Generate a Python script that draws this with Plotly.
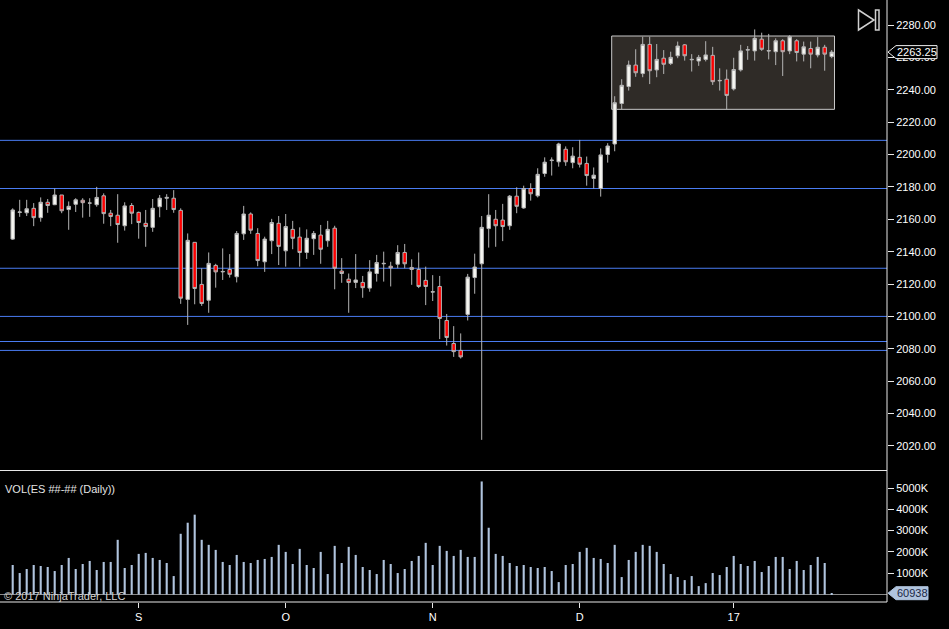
import plotly.graph_objects as go

# ---------------- data ----------------
bar_index = list(range(118))

opens = [
    2147.75, 2164.25, 2164.0, 2166.75, 2161.0, 2170.5, 2169.0, 2175.0, 2166.0, 2169.25,
    2171.75, 2170.0, 2169.0, 2174.5, 2163.75, 2162.5, 2156.0, 2168.5, 2164.25, 2157.5,
    2155.0, 2167.75, 2173.0, 2173.0, 2165.5, 2110.5, 2145.75, 2119.75, 2110.0, 2131.5,
    2127.5, 2129.0, 2124.5, 2151.0, 2163.25, 2151.25, 2133.75, 2146.75, 2157.5, 2140.5,
    2153.75, 2149.0, 2139.5, 2148.0, 2150.25, 2146.75, 2154.5, 2128.0, 2123.0, 2121.0,
    2121.0, 2117.5, 2126.5, 2132.5, 2131.0, 2132.25, 2139.5, 2130.25, 2129.0, 2122.25,
    2115.0, 2118.5, 2097.5, 2083.25, 2079.0, 2101.25, 2124.0, 2132.5, 2154.25, 2160.0,
    2159.5, 2156.0, 2174.25, 2167.0, 2179.0, 2174.5, 2188.25, 2196.25, 2195.5, 2203.25,
    2195.0, 2198.25, 2194.5, 2185.25, 2179.0, 2200.0, 2206.5, 2231.5, 2242.0, 2255.25,
    2250.0, 2268.0, 2252.25, 2259.5, 2256.25, 2261.0, 2267.75, 2258.5, 2257.75, 2258.75,
    2261.25, 2245.5, 2246.5, 2240.5, 2252.25, 2264.5, 2264.0, 2271.25, 2264.25, 2263.5,
    2270.25, 2264.0, 2270.25, 2262.0, 2265.5, 2261.5, 2266.25, 2260.5,
]
highs = [
    2166.75, 2172.0, 2172.0, 2170.0, 2173.5, 2172.5, 2179.0, 2175.0, 2171.0, 2173.0,
    2173.0, 2173.0, 2180.0, 2176.0, 2165.75, 2175.5, 2170.5, 2170.0, 2164.75, 2165.75,
    2172.5, 2175.0, 2175.5, 2178.0, 2166.75, 2151.25, 2145.75, 2129.75, 2139.5, 2132.5,
    2142.0, 2138.5, 2152.75, 2168.25, 2164.25, 2154.5, 2149.25, 2160.25, 2162.0, 2163.25,
    2159.0, 2155.0, 2153.75, 2152.75, 2156.5, 2159.0, 2156.0, 2136.0, 2126.5, 2138.5,
    2125.0, 2134.75, 2138.0, 2140.0, 2133.75, 2144.0, 2144.75, 2135.25, 2139.5, 2130.75,
    2125.5, 2125.0, 2101.5, 2094.0, 2089.5, 2126.25, 2138.75, 2162.0, 2175.5, 2165.75,
    2169.5, 2175.0, 2179.75, 2180.75, 2182.25, 2191.5, 2198.25, 2198.25, 2207.25, 2205.0,
    2204.5, 2209.0, 2198.75, 2192.0, 2203.75, 2207.0, 2236.0, 2246.5, 2258.0, 2265.0,
    2272.75, 2272.75, 2268.25, 2264.5, 2263.5, 2269.75, 2268.25, 2262.0, 2261.5, 2270.0,
    2266.5, 2253.25, 2252.5, 2259.75, 2267.75, 2267.0, 2277.25, 2275.25, 2274.5, 2271.75,
    2271.25, 2273.75, 2271.25, 2269.75, 2269.75, 2272.5, 2267.75, 2264.5,
]
lows = [
    2147.25, 2161.5, 2162.0, 2155.75, 2158.5, 2164.0, 2168.75, 2163.75, 2153.5, 2164.5,
    2161.0, 2161.5, 2167.75, 2157.25, 2155.75, 2145.5, 2153.0, 2157.0, 2148.0, 2143.0,
    2152.25, 2161.25, 2165.75, 2164.0, 2107.75, 2094.75, 2107.5, 2106.5, 2102.25, 2117.75,
    2122.5, 2124.0, 2121.0, 2147.25, 2151.0, 2131.0, 2127.5, 2138.5, 2131.75, 2130.75,
    2141.5, 2130.75, 2135.5, 2138.0, 2132.5, 2143.0, 2116.75, 2120.75, 2102.25, 2117.5,
    2111.5, 2115.25, 2121.5, 2121.5, 2118.5, 2129.75, 2129.75, 2119.5, 2117.5, 2107.0,
    2109.5, 2086.0, 2082.0, 2075.0, 2074.0, 2097.5, 2114.0, 2023.75, 2142.5, 2143.0,
    2146.5, 2153.5, 2163.75, 2166.5, 2171.5, 2173.5, 2186.25, 2187.0, 2192.5, 2193.0,
    2191.5, 2192.0, 2180.75, 2179.0, 2174.0, 2195.0, 2202.0, 2228.0, 2239.5, 2248.0,
    2247.75, 2243.5, 2247.75, 2249.75, 2255.25, 2259.5, 2258.0, 2251.25, 2254.75, 2257.5,
    2243.0, 2239.5, 2228.0, 2239.5, 2251.25, 2258.5, 2258.0, 2264.0, 2258.75, 2255.25,
    2248.5, 2262.0, 2257.5, 2257.5, 2253.25, 2260.0, 2251.75, 2259.5,
]
closes = [
    2165.75, 2164.5, 2166.5, 2161.0, 2170.5, 2168.5, 2175.0, 2165.25, 2168.0, 2172.0,
    2170.25, 2170.0, 2173.5, 2163.5, 2161.75, 2156.75, 2168.25, 2163.75, 2158.0, 2155.5,
    2166.75, 2173.0, 2173.5, 2166.0, 2111.25, 2147.0, 2117.25, 2108.0, 2132.75, 2127.5,
    2127.75, 2126.0, 2151.25, 2163.25, 2153.25, 2134.5, 2147.75, 2158.0, 2143.25, 2155.5,
    2148.25, 2139.5, 2148.25, 2151.25, 2141.5, 2153.75, 2129.75, 2126.5, 2121.0, 2122.5,
    2117.75, 2127.5, 2133.25, 2132.75, 2130.0, 2139.5, 2132.5, 2129.0, 2118.5, 2118.5,
    2115.25, 2098.75, 2087.0, 2078.25, 2075.0, 2124.25, 2130.5, 2155.0, 2162.5, 2156.0,
    2155.5, 2174.25, 2168.0, 2179.0, 2175.75, 2187.75, 2195.25, 2196.5, 2206.5, 2195.5,
    2199.0, 2194.0, 2187.0, 2187.25, 2199.75, 2205.25, 2232.0, 2242.75, 2255.25, 2250.5,
    2268.0, 2251.75, 2258.75, 2255.75, 2260.0, 2267.0, 2261.0, 2258.75, 2260.0, 2261.5,
    2245.0, 2245.75, 2236.5, 2252.5, 2264.0, 2264.75, 2271.75, 2265.0, 2264.0, 2270.25,
    2263.5, 2272.75, 2263.0, 2266.5, 2262.0, 2266.25, 2262.0, 2263.25,
]
volumes = [
    1386000, 1008000, 1197000, 1386000, 1339000, 1291000, 1102000, 1386000, 1717000, 1197000,
    1433000, 1575000, 1150000, 1528000, 1528000, 2567000, 1244000, 1386000, 1906000, 1953000,
    1717000, 1622000, 1480000, 866000, 2850000, 3370000, 3748000, 2567000, 2331000, 2094000,
    1528000, 1386000, 1858000, 1528000, 1480000, 1622000, 1669000, 1764000, 2331000, 2000000,
    1433000, 2142000, 1386000, 1244000, 2000000, 961000, 2283000, 1480000, 2236000, 1858000,
    1291000, 1150000, 961000, 1622000, 1433000, 1008000, 1197000, 1575000, 1811000, 2425000,
    1386000, 2283000, 2047000, 1811000, 2094000, 1764000, 1764000, 5307000, 3134000, 1906000,
    1811000, 1480000, 1339000, 1386000, 1291000, 1244000, 1291000, 1102000, 583000, 1386000,
    1433000, 2000000, 2189000, 1717000, 1669000, 1480000, 2331000, 819000, 1622000, 2000000,
    2331000, 2283000, 2000000, 1433000, 961000, 819000, 677000, 866000, 394000, 535000,
    1008000, 913000, 1291000, 1811000, 1433000, 1339000, 1575000, 1055000, 1339000, 1764000,
    1764000, 1197000, 1575000, 1150000, 1386000, 1764000, 1480000, 60938,
]

level_lines = [2208.75, 2179.0, 2129.75, 2100.0, 2084.5, 2079.0]

month_tick_index = [18, 39, 60, 81, 103]
month_tick_labels = ["S", "O", "N", "D", "17"]

price_ticks = [2020, 2040, 2060, 2080, 2100, 2120, 2140, 2160, 2180, 2200, 2220, 2240, 2260, 2280]
volume_ticks = [1000000, 2000000, 3000000, 4000000, 5000000]
volume_tick_labels = ["1000K", "2000K", "3000K", "4000K", "5000K"]

box_x = [85.57, 117.4]
box_y = [2227.9, 2273.2]

last_price = 2263.25
last_volume = 60938

# ---------------- figure ----------------
FONT = "Liberation Sans, Arial, sans-serif"
W, H = 949, 629
PW, PH = 887, 602  # plot area in pixels


def px(x):
    return x / PW


def py(y):
    return 1 - y / PH


fig = go.Figure()

fig.add_trace(go.Candlestick(
    x=bar_index, open=opens, high=highs, low=lows, close=closes,
    xaxis="x", yaxis="y",
    increasing=dict(fillcolor="#f7f7f2", line=dict(color="#b4b4b4", width=1)),
    decreasing=dict(fillcolor="#ff0000", line=dict(color="#b4b4b4", width=1)),
    whiskerwidth=0, showlegend=False, hoverinfo="skip",
))

fig.add_trace(go.Bar(
    x=bar_index, y=volumes, xaxis="x", yaxis="y2",
    width=0.3, marker=dict(color="#b0c4de", line=dict(width=0)),
    showlegend=False, hoverinfo="skip",
))

shapes = []
# consolidation box
shapes.append(dict(type="rect", xref="x", yref="y", x0=box_x[0], x1=box_x[1],
                   y0=box_y[0], y1=box_y[1], fillcolor="#2f2b27",
                   line=dict(color="#c8c8c8", width=1), layer="below"))
# horizontal levels
for lv in level_lines:
    shapes.append(dict(type="line", xref="paper", yref="y", x0=0, x1=1, y0=lv, y1=lv,
                       line=dict(color="#4a7cf2", width=1), layer="below"))
# volume zero baseline
shapes.append(dict(type="line", xref="paper", yref="y2", x0=0, x1=1, y0=0, y1=0,
                   line=dict(color="#8a8a8a", width=1), layer="below"))
# frame lines
shapes.append(dict(type="line", xref="paper", yref="paper", x0=1, x1=1, y0=0, y1=1,
                   line=dict(color="#e8e8e8", width=1)))
shapes.append(dict(type="line", xref="paper", yref="paper", x0=0, x1=1, y0=0, y1=0,
                   line=dict(color="#e8e8e8", width=1)))
shapes.append(dict(type="line", xref="paper", yref="paper", x0=0, x1=1,
                   y0=py(470.5), y1=py(470.5), line=dict(color="#e8e8e8", width=1)))
# last price marker
shapes.append(dict(type="path", xref="paper", yref="y", xsizemode="pixel", ysizemode="pixel",
                   xanchor=1, yanchor=last_price,
                   path="M 1 0 L 9 6.5 L 50 6.5 L 50 -6.5 L 9 -6.5 Z",
                   fillcolor="#000000", line=dict(color="#f0f0f0", width=1)))
# last volume marker
shapes.append(dict(type="path", xref="paper", yref="y2", xsizemode="pixel", ysizemode="pixel",
                   xanchor=1, yanchor=last_volume,
                   path="M 1 0 L 9 6.5 L 41 6.5 L 41 -6.5 L 9 -6.5 Z",
                   fillcolor="#b0c4de", line=dict(color="#b0c4de", width=1)))
# "go to end" icon
shapes.append(dict(type="path", xref="paper", yref="paper",
                   path=f"M {px(858.5)} {py(10)} L {px(874)} {py(20)} L {px(858.5)} {py(30)} Z",
                   line=dict(color="#cfcfcf", width=1.5)))
shapes.append(dict(type="rect", xref="paper", yref="paper",
                   x0=px(875.5), x1=px(879), y0=py(10), y1=py(30),
                   line=dict(color="#cfcfcf", width=1.5)))

annotations = [
    dict(xref="paper", yref="y", x=px(916.5), y=last_price, text=f"{last_price:.2f}",
         showarrow=False, xanchor="center", yanchor="middle",
         font=dict(family=FONT, size=11, color="#ffffff")),
    dict(xref="paper", yref="y2", x=px(912.5), y=last_volume, text=f"{last_volume}",
         showarrow=False, xanchor="center", yanchor="middle",
         font=dict(family=FONT, size=11, color="#1b2745")),
    dict(xref="paper", yref="paper", x=px(3), y=py(488.5), text="VOL(ES ##-## (Daily))",
         showarrow=False, xanchor="left", yanchor="middle",
         font=dict(family=FONT, size=11, color="#e4e4e4")),
    dict(xref="paper", yref="paper", x=px(2), y=py(596), text="© 2017 NinjaTrader, LLC",
         showarrow=False, xanchor="left", yanchor="middle",
         font=dict(family=FONT, size=11, color="#d4d4d4")),
]

fig.update_layout(
    width=W, height=H,
    paper_bgcolor="#000000", plot_bgcolor="#000000",
    margin=dict(l=0, r=W - PW, t=0, b=H - PH, pad=0),
    font=dict(family=FONT, size=11, color="#ffffff"),
    xaxis=dict(
        domain=[0, 1], anchor="y2", range=[-1.814, 124.9],
        tickmode="array", tickvals=month_tick_index, ticktext=month_tick_labels,
        ticks="outside", ticklen=5, tickcolor="#e8e8e8", tickwidth=1,
        showgrid=False, zeroline=False, showline=False,
        rangeslider=dict(visible=False),
        tickfont=dict(family=FONT, size=11, color="#ffffff"),
    ),
    yaxis=dict(
        domain=[py(470), 1], anchor="x", side="right",
        range=[2005.13, 2295.44],
        tickmode="array", tickvals=price_ticks,
        ticktext=[f"{v:.2f}" for v in price_ticks],
        ticks="outside", ticklen=6, tickcolor="#e8e8e8", tickwidth=1,
        showgrid=False, zeroline=False, showline=False,
        tickfont=dict(family=FONT, size=11, color="#ffffff"),
    ),
    yaxis2=dict(
        domain=[0, py(471)], anchor="x", side="right",
        range=[-352000, 5798000],
        tickmode="array", tickvals=volume_ticks, ticktext=volume_tick_labels,
        ticks="outside", ticklen=6, tickcolor="#e8e8e8", tickwidth=1,
        showgrid=False, zeroline=False, showline=False,
        tickfont=dict(family=FONT, size=11, color="#ffffff"),
    ),
    shapes=shapes,
    annotations=annotations,
    hovermode=False,
)

fig.write_html(
    "out.html",
    config={"displayModeBar": False},
    post_script="document.body.style.margin='0';document.body.style.background='#000';",
)
